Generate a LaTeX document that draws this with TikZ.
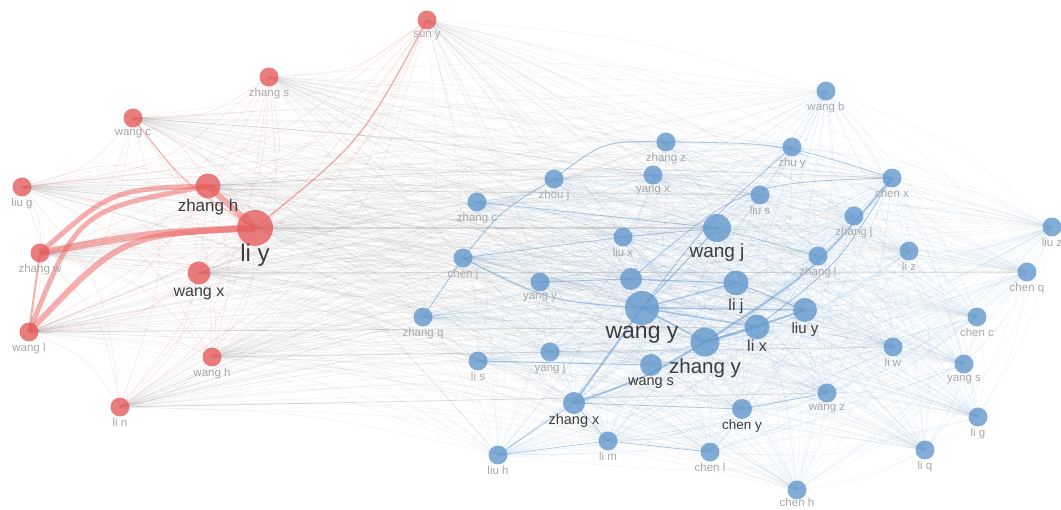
\documentclass[tikz,border=0pt]{standalone}
\usepackage{fontspec}
\setmainfont{Liberation Sans}
\usetikzlibrary{calc}
\pgfdeclarelayer{bg}
\pgfsetlayers{bg,main}
\definecolor{rednode}{RGB}{228,92,92}
\definecolor{bluenode}{RGB}{98,152,204}
\definecolor{redge}{RGB}{236,96,96}
\definecolor{bedge}{RGB}{100,155,210}
\definecolor{gedge}{RGB}{105,105,105}
\definecolor{labgray}{RGB}{168,168,168}
\definecolor{labdark}{RGB}{60,60,60}
\newcommand\myedgeL[4]{\draw[#1] (#2.center) .. controls ($(#2.center)!0.5!(#3.center)!#4!90:(#3.center)$) .. (#3.center);}
\newcommand\myedgeR[4]{\draw[#1] (#2.center) .. controls ($(#2.center)!0.5!(#3.center)!#4!-90:(#3.center)$) .. (#3.center);}
\begin{document}
\begin{tikzpicture}[x=1pt,y=-1pt,
  rn/.style={circle,fill=rednode,fill opacity=0.8,draw=none,minimum size=#1*2pt,inner sep=0pt},
  bn/.style={circle,fill=bluenode,fill opacity=0.8,draw=none,minimum size=#1*2pt,inner sep=0pt},
  lab/.style={font=\fontsize{11.5}{11.5}\selectfont,text=labgray,inner sep=0pt,text opacity=1},
  big/.style={font=\fontsize{#1}{#1}\selectfont,text=labdark,inner sep=0pt,text opacity=1},
  grayline/.style={draw=gedge,opacity=0.09,line width=0.5pt},
  blueline/.style={draw=bedge,opacity=0.11,line width=0.5pt},
  redline/.style={draw=redge,opacity=0.18,line width=0.5pt},
  bluestrong/.style={draw=bedge,opacity=0.55,line width=#1},
  graystrong/.style={draw=gedge,opacity=0.22,line width=#1},
  redthick/.style={draw=redge,opacity=0.5,line width=#1},
  label distance=1pt,
]
\useasboundingbox (0,0) rectangle (1061,510);
% red cluster
\node[rn=9.5, label={[lab]below:sun y}] (suny) at (427,20) {};
\node[rn=9.5, label={[lab]below:zhang s}] (zhangs) at (269,77) {};
\node[rn=9.5, label={[lab]below:wang c}] (wangc) at (133,118) {};
\node[rn=9.5, label={[lab]below:liu g}] (liug) at (22,187) {};
\node[rn=12.5, label={[big=17,label distance=0pt]below:zhang h}] (zhangh) at (208,186) {};
\node[rn=18, label={[big=24,label distance=-2pt]below:li y}] (liy) at (255,228) {};
\node[rn=9.5, label={[lab]below:zhang w}] (zhangw) at (40,253) {};
\node[rn=11.5, label={[big=16,label distance=3pt]below:wang x}] (wangx) at (199,273) {};
\node[rn=9.5, label={[lab]below:wang l}] (wangl) at (29,332) {};
\node[rn=9.5, label={[lab]below:wang h}] (wangh) at (212,357) {};
\node[rn=9.5, label={[lab]below:li n}] (lin) at (120,407) {};
% blue cluster
\node[bn=9.5, label={[lab]below:wang b}] (wangb) at (826,91) {};
\node[bn=9.5, label={[lab]below:zhang z}] (zhangz) at (666,142) {};
\node[bn=9.5, label={[lab]below:zhu y}] (zhuy) at (792,147) {};
\node[bn=9.5, label={[lab]below:zhou j}] (zhouj) at (554,179) {};
\node[bn=9.5, label={[lab]below:yang x}] (yangx) at (653,175) {};
\node[bn=9.5, label={[lab]below:chen x}] (chenx) at (892,178) {};
\node[bn=9.5, label={[lab]below:zhang c}] (zhangc) at (477,202) {};
\node[bn=9.5, label={[lab]below:liu s}] (lius) at (760,195) {};
\node[bn=9.5, label={[lab]below:zhang j}] (zhangj) at (854,216) {};
\node[bn=14, label={[big=19,label distance=1pt]below:wang j}] (wangj) at (717,228) {};
\node[bn=9.5, label={[lab]below:liu x}] (liux) at (623,237) {};
\node[bn=9.5, label={[lab]below:liu z}] (liuz) at (1052,227) {};
\node[bn=9.5, label={[lab]below:chen j}] (chenj) at (463,258) {};
\node[bn=9.5, label={[lab]below:zhang l}] (zhangl) at (818,256) {};
\node[bn=9.5, label={[lab]below:li z}] (liz) at (909,251) {};
\node[bn=9.5, label={[lab]below:yang y}] (yangy) at (540,282) {};
\node[bn=11] (unl) at (631,279) {};
\node[bn=12.5, label={[big=16,label distance=3pt]below:li j}] (lij) at (736,283) {};
\node[bn=9.5, label={[lab]below:chen q}] (chenq) at (1027,272) {};
\node[bn=17, label={[big=23,label distance=1pt]below:wang y}] (wangy) at (642,308) {};
\node[bn=12, label={[big=15,label distance=0pt]below:liu y}] (liuy) at (805,310) {};
\node[bn=12.5, label={[big=16,label distance=0pt]below:li x}] (lix) at (757,327) {};
\node[bn=9.5, label={[lab]below:zhang q}] (zhangq) at (423,317) {};
\node[bn=9.5, label={[lab]below:chen c}] (chenc) at (977,317) {};
\node[bn=14.5, label={[big=20.5,label distance=2pt]below:zhang y}] (zhangy) at (705,342) {};
\node[bn=9.5, label={[lab]below:li w}] (liw) at (893,347) {};
\node[bn=9.5, label={[lab]below:yang j}] (yangj) at (550,352) {};
\node[bn=9.5, label={[lab]below:li s}] (lis) at (478,361) {};
\node[bn=11, label={[big=14.5,label distance=1pt]below:wang s}] (wangs) at (651,365) {};
\node[bn=9.5, label={[lab]below:yang s}] (yangs) at (964,364) {};
\node[bn=11, label={[big=14.5,label distance=0pt]below:zhang x}] (zhangx) at (574,403) {};
\node[bn=9.5, label={[lab]below:wang z}] (wangz) at (827,393) {};
\node[bn=10, label={[big=13.5,label distance=0pt]below:chen y}] (cheny) at (742,409) {};
\node[bn=9.5, label={[lab]below:li g}] (lig) at (978,417) {};
\node[bn=9.5, label={[lab]below:li m}] (lim) at (608,441) {};
\node[bn=9.5, label={[lab]below:liu h}] (liuh) at (498,455) {};
\node[bn=9.5, label={[lab]below:chen l}] (chenl) at (710,452) {};
\node[bn=9.5, label={[lab]below:li q}] (liq) at (925,450) {};
\node[bn=9.5, label={[lab,label distance=-1.5pt]below:chen h}] (chenh) at (797,490) {};
\def\redlist{suny,zhangs,wangc,liug,zhangh,liy,zhangw,wangx,wangl,wangh,lin}
\def\bluelist{wangb,zhangz,zhuy,zhouj,yangx,chenx,zhangc,lius,zhangj,wangj,liux,liuz,chenj,zhangl,liz,yangy,unl,lij,chenq,wangy,liuy,lix,zhangq,chenc,zhangy,liw,yangj,lis,wangs,yangs,zhangx,wangz,cheny,lig,lim,liuh,chenl,liq,chenh}
\begin{pgfonlayer}{bg}
% gray inter-cluster links
\foreach \a in \redlist {\foreach \b in \bluelist {\myedgeL{grayline}{\a}{\b}{0.1}}}
% blue intra-cluster links
\foreach \a [count=\i] in \bluelist {\foreach \b [count=\j] in \bluelist {\ifnum\i<\j \myedgeL{blueline}{\a}{\b}{0.18}\fi}}
% red intra-cluster links
\foreach \a [count=\i] in \redlist {\foreach \b [count=\j] in \redlist {\ifnum\i<\j \myedgeL{redline}{\a}{\b}{0.3}\fi}}
% stronger gray links
\draw[graystrong=1.2pt] (liy.center) -- (wangj.center);
\myedgeL{graystrong=0.8pt}{zhangh}{chenx}{0.05}
\draw[graystrong=0.7pt] (liug.center) -- (lius.center);
\draw[graystrong=1pt] (wangx.center) -- (chenq.center);
\draw[graystrong=0.8pt] (wangl.center) -- (lix.center);
\draw[graystrong=0.8pt] (wangh.center) -- (liw.center);
\draw[graystrong=0.8pt] (lin.center) -- (wangz.center);
\myedgeL{graystrong=0.6pt}{wangc}{lius}{0.05}
\myedgeL{graystrong=0.6pt}{chenj}{wangy}{0.07}
% stronger blue links
\draw[bluestrong=2pt] (wangy.center) -- (zhangx.center);
\myedgeL{bluestrong=2pt}{zhangy}{zhangx}{0.1}
\draw[bluestrong=1.5pt] (wangy.center) -- (lix.center);
\draw[bluestrong=2pt] (zhangy.center) -- (lix.center);
\myedgeR{bluestrong=1.8pt}{zhangy}{chenx}{0.15}
\myedgeR{bluestrong=1.2pt}{chenj}{wangy}{0.2}
\myedgeL{bluestrong=1pt}{zhouj}{zhangz}{0.35}
\myedgeL{bluestrong=1pt}{chenj}{zhouj}{0.18}
\draw[bluestrong=1.2pt] (wangy.center) -- (wangj.center);
\draw[bluestrong=1.2pt] (wangy.center) -- (lij.center);
\draw[bluestrong=1pt] (unl.center) -- (lij.center);
\draw[bluestrong=1pt] (yangy.center) -- (unl.center);
\draw[bluestrong=1.2pt] (wangy.center) -- (liuy.center);
\draw[bluestrong=1.5pt] (zhangy.center) -- (wangy.center);
\draw[bluestrong=1pt] (zhangy.center) -- (liuy.center);
\draw[bluestrong=1pt] (lix.center) -- (liuy.center);
\draw[bluestrong=1pt] (lij.center) -- (liuy.center);
\draw[bluestrong=0.8pt] (chenj.center) -- (zhangq.center);
\draw[bluestrong=0.8pt] (zhangx.center) -- (lim.center);
\draw[bluestrong=0.8pt] (zhangx.center) -- (cheny.center);
\draw[bluestrong=0.8pt] (zhangx.center) -- (liuh.center);
\myedgeR{bluestrong=0.9pt}{zhuy}{wangy}{0.1}
\myedgeL{bluestrong=0.8pt}{zhangz}{chenx}{0.15}
\draw[bluestrong=0.8pt] (zhangc.center) -- (wangj.center);
\draw[bluestrong=0.8pt] (chenj.center) -- (liux.center);
\draw[bluestrong=0.8pt] (liux.center) -- (wangj.center);
\draw[bluestrong=0.8pt] (wangj.center) -- (zhangl.center);
\myedgeL{bluestrong=0.8pt}{unl}{chenx}{0.35}
\draw[bluestrong=0.8pt] (lis.center) -- (wangs.center);
\myedgeR{bluestrong=0.8pt}{lix}{chenx}{0.18}
\draw[bluestrong=0.8pt] (cheny.center) -- (wangz.center);
\draw[bluestrong=0.7pt] (lim.center) -- (chenl.center);
\draw[bluestrong=0.7pt] (liuh.center) -- (lim.center);
% strong red links
\myedgeL{redthick=7pt}{zhangw}{liy}{0.07}
\myedgeL{redthick=6pt}{wangl}{liy}{0.4}
\myedgeL{redthick=5pt}{zhangw}{zhangh}{0.36}
\myedgeL{redthick=5pt}{wangl}{zhangh}{0.55}
\draw[redthick=6pt] (zhangh.center) -- (liy.center);
\draw[redthick=2pt] (zhangw.center) -- (wangl.center);
\myedgeR{redthick=1.4pt}{liy}{suny}{0.2}
\myedgeR{redthick=1pt}{wangc}{liy}{0.18}
\end{pgfonlayer}
\end{tikzpicture}
\end{document}
